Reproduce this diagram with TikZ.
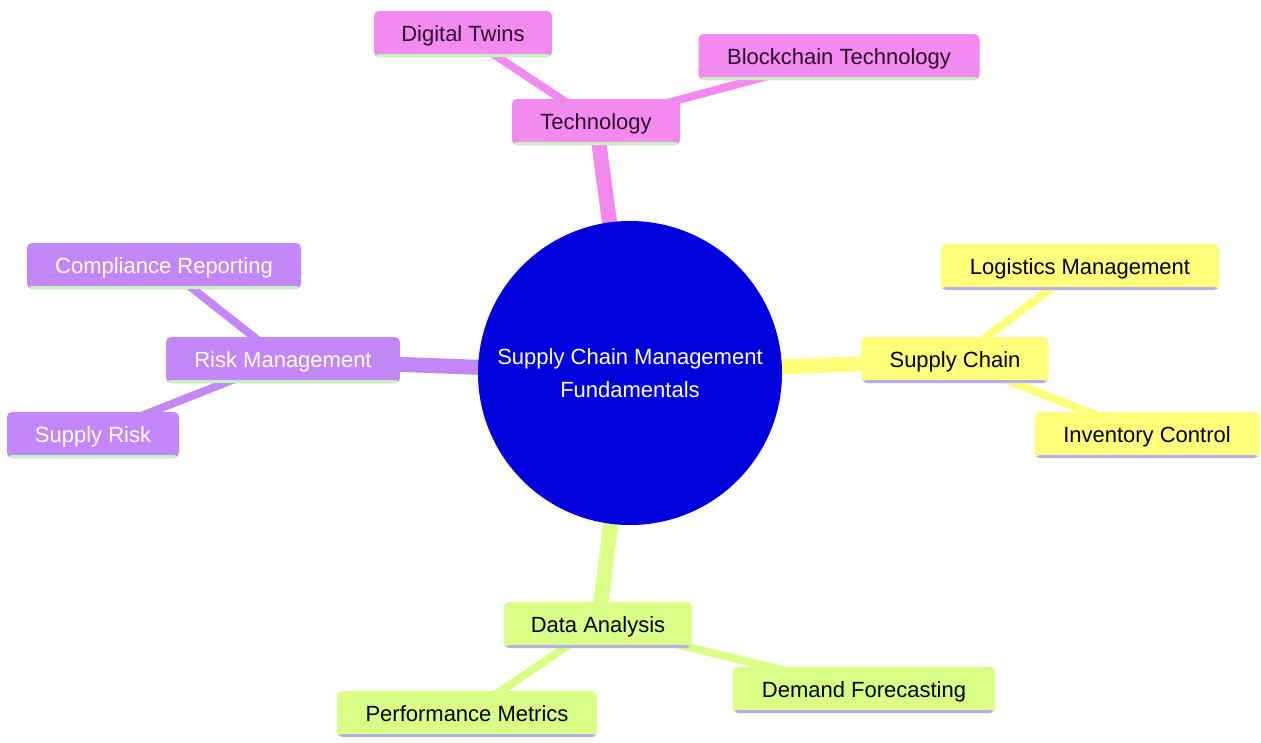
\documentclass[tikz,border=0pt]{standalone}
\usepackage{fontspec}
\setmainfont{Liberation Sans}
\definecolor{pinkc}{HTML}{F28AF0}
\definecolor{purplec}{HTML}{C387FA}
\definecolor{yellowc}{HTML}{FFFF7A}
\definecolor{greenc}{HTML}{DAFF87}
\definecolor{bluec}{HTML}{0000DD}
\definecolor{lgreen}{HTML}{C6F2C0}
\definecolor{lav}{HTML}{B4ADE6}
\definecolor{darktext}{HTML}{2A102A}
\pgfdeclarelayer{bg}
\pgfsetlayers{bg,main}
\begin{document}
\begin{tikzpicture}[x=1pt,y=-1pt,
  box/.style={rounded corners=5pt, minimum height=46pt, inner xsep=0pt, inner ysep=0pt,
    text height=17.5pt, text depth=2.5pt,
    font=\fontsize{22}{26}\selectfont,
    path picture={\fill[#1] ([yshift=3pt]path picture bounding box.south west) rectangle (path picture bounding box.south east);}},
  pinkbox/.style={box=lgreen, fill=pinkc, text=darktext},
  purplebox/.style={box=lgreen, fill=purplec, text=white},
  yellowbox/.style={box=lav, fill=yellowc, text=black},
  greenbox/.style={box=lav, fill=greenc, text=black},
  mainedge/.style={line width=15pt},
  subedge/.style={line width=8pt}
]
\useasboundingbox (0,0) rectangle (1261,742);

\node[circle, fill=bluec, minimum size=304pt, inner sep=0pt, text=white, align=center,
  font=\fontsize{22}{33}\selectfont] (root) at (630,373) {Supply Chain Management\\Fundamentals};

\node[pinkbox, minimum width=168pt] (tech) at (596,122) {Technology};
\node[pinkbox, minimum width=178pt] (dt) at (463,34) {Digital Twins};
\node[pinkbox, minimum width=281pt] (bc) at (839,57) {Blockchain Technology};

\node[purplebox, minimum width=234pt] (risk) at (283,360) {Risk Management};
\node[purplebox, minimum width=274pt] (comp) at (164,266) {Compliance Reporting};
\node[purplebox, minimum width=172pt] (srisk) at (93,435) {Supply Risk};

\node[yellowbox, minimum width=187pt] (sc) at (955,360) {Supply Chain};
\node[yellowbox, minimum width=278pt] (log) at (1080,267) {Logistics Management};
\node[yellowbox, minimum width=224pt] (inv) at (1147,435) {Inventory Control};

\node[greenbox, minimum width=188pt] (da) at (598,625) {Data Analysis};
\node[greenbox, minimum width=262pt] (dem) at (864,690) {Demand Forecasting};
\node[greenbox, minimum width=260pt] (perf) at (467,714) {Performance Metrics};

\begin{pgfonlayer}{bg}
\fill[white] (0,0) rectangle (1261,742);
\draw[mainedge, pinkc] (root.center) -- (tech.center);
\draw[subedge, pinkc] (tech.center) -- (dt.center);
\draw[subedge, pinkc] (tech.center) -- (bc.center);
\draw[mainedge, purplec] (root.center) -- (risk.center);
\draw[subedge, purplec] (risk.center) -- (comp.center);
\draw[subedge, purplec] (risk.center) -- (srisk.center);
\draw[mainedge, yellowc] (root.center) -- (sc.center);
\draw[subedge, yellowc] (sc.center) -- (log.center);
\draw[subedge, yellowc] (sc.center) -- (inv.center);
\draw[mainedge, greenc] (root.center) -- (da.center);
\draw[subedge, greenc] (da.center) -- (dem.center);
\draw[subedge, greenc] (da.center) -- (perf.center);
\end{pgfonlayer}
\end{tikzpicture}
\end{document}
